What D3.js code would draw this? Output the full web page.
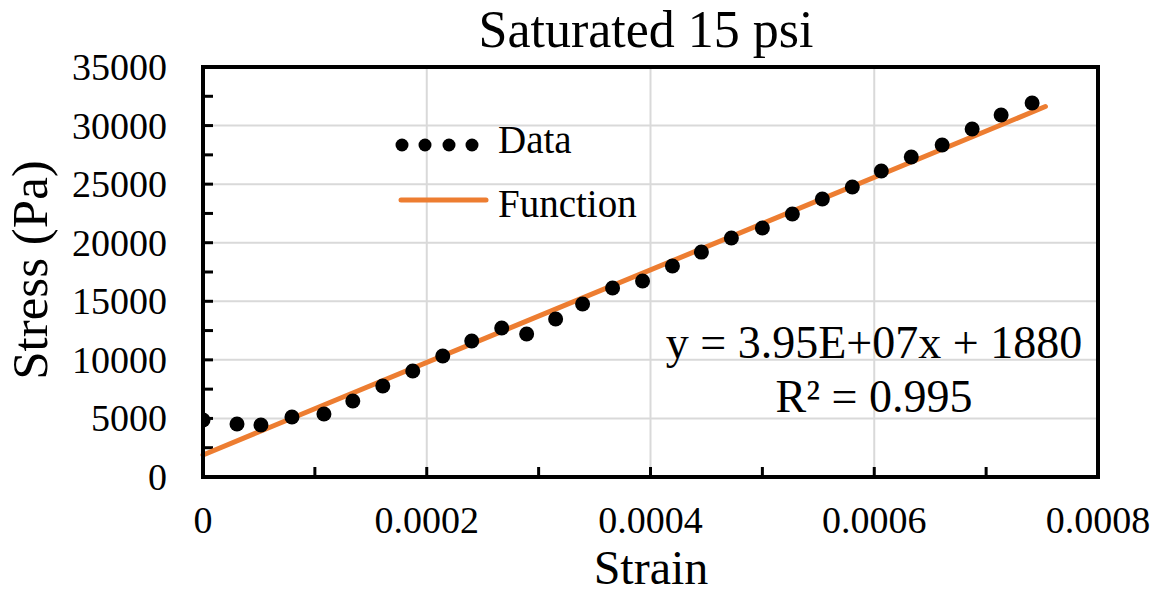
<!DOCTYPE html>
<html>
<head>
<meta charset="utf-8">
<script src="https://cdn.jsdelivr.net/npm/d3@7"></script>
<style>
  html, body { margin: 0; padding: 0; background: #fff; }
  svg text { font-family: "Liberation Serif", "Times New Roman", serif; fill: #000; }
</style>
</head>
<body>
<svg id="chart" width="1159" height="594"></svg>
<script>
const strain = [0, 3.04e-5, 5.18e-5, 7.95e-5, 1.081e-4, 1.339e-4, 1.607e-4, 1.875e-4, 2.143e-4, 2.402e-4,
  2.670e-4, 2.893e-4, 3.152e-4, 3.393e-4, 3.661e-4, 3.929e-4, 4.196e-4, 4.455e-4, 4.723e-4, 5.0e-4,
  5.268e-4, 5.536e-4, 5.804e-4, 6.063e-4, 6.331e-4, 6.607e-4, 6.875e-4, 7.134e-4, 7.411e-4];
const stress = [4870, 4530, 4440, 5120, 5380, 6490, 7770, 9050, 10330, 11610,
  12720, 12210, 13490, 14770, 16130, 16730, 18010, 19200, 20400, 21260,
  22450, 23730, 24760, 26120, 27320, 28340, 29710, 30900, 31930];
const fitSlope = 3.95e7;
const fitIntercept = 1880;
const fitRange = [0, 0.000753];
const xTicks = [0, 0.0002, 0.0004, 0.0006, 0.0008];
const xTickLabels = ["0", "0.0002", "0.0004", "0.0006", "0.0008"];
const yTicks = [0, 5000, 10000, 15000, 20000, 25000, 30000, 35000];
const yTickLabels = ["0", "5000", "10000", "15000", "20000", "25000", "30000", "35000"];
const titleText = "Saturated 15 psi";
const xTitle = "Strain";
const yTitle = "Stress (Pa)";
const eqText = "y = 3.95E+07x + 1880";
const r2Text = "R\u00B2 = 0.995";
const legendLabels = ["Data", "Function"];

const svg = d3.select("#chart");
const L = 203, R = 1098, T = 67, B = 477;
const x = d3.scaleLinear().domain([0, 0.0008]).range([L, R]);
const y = d3.scaleLinear().domain([0, 35000]).range([B, T]);
const orange = "#ED7D31";

// gridlines
svg.append("g").selectAll("line").data(xTicks.slice(1, -1)).join("line")
  .attr("x1", d => x(d)).attr("x2", d => x(d)).attr("y1", T).attr("y2", B)
  .attr("stroke", "#d9d9d9").attr("stroke-width", 2);
svg.append("g").selectAll("line").data(yTicks.slice(1, -1)).join("line")
  .attr("x1", L).attr("x2", R).attr("y1", d => y(d)).attr("y2", d => y(d))
  .attr("stroke", "#d9d9d9").attr("stroke-width", 2);

// minor ticks (inside)
const xMinor = d3.range(1, 8).map(i => i * 0.0001);
svg.append("g").selectAll("line").data(xMinor).join("line")
  .attr("x1", d => x(d)).attr("x2", d => x(d)).attr("y1", B).attr("y2", B - 10)
  .attr("stroke", "#000").attr("stroke-width", 3);
const yMinor = d3.range(1, 14).map(i => i * 2500);
svg.append("g").selectAll("line").data(yMinor).join("line")
  .attr("x1", L).attr("x2", L + 10).attr("y1", d => y(d)).attr("y2", d => y(d))
  .attr("stroke", "#000").attr("stroke-width", 3);

// border
svg.append("rect").attr("x", L).attr("y", T).attr("width", R - L).attr("height", B - T)
  .attr("fill", "none").attr("stroke", "#000").attr("stroke-width", 4);

// tick labels
svg.append("g").selectAll("text").data(xTicks).join("text")
  .attr("x", d => x(d)).attr("y", 533).attr("text-anchor", "middle")
  .attr("font-size", 38).text((d, i) => xTickLabels[i]);
svg.append("g").selectAll("text").data(yTicks).join("text")
  .attr("x", 167).attr("y", d => y(d) + 13).attr("text-anchor", "end")
  .attr("font-size", 38).text((d, i) => yTickLabels[i]);

// trend line
const line = d3.line().x(d => x(d)).y(d => y(fitSlope * d + fitIntercept));
svg.append("path").datum(fitRange).attr("d", line)
  .attr("fill", "none").attr("stroke", orange).attr("stroke-width", 5).attr("stroke-linecap", "round");

// data points
const clipId = "plotclip";
svg.append("clipPath").attr("id", clipId).append("rect")
  .attr("x", L).attr("y", T).attr("width", R - L).attr("height", B - T);
svg.append("g").attr("clip-path", `url(#${clipId})`).selectAll("circle").data(strain).join("circle")
  .attr("cx", d => x(d)).attr("cy", (d, i) => y(stress[i])).attr("r", 7.5).attr("fill", "#000");
// redraw left axis line over points
svg.append("line").attr("x1", L).attr("x2", L).attr("y1", T - 2).attr("y2", B + 2)
  .attr("stroke", "#000").attr("stroke-width", 4);

// legend
svg.append("g").selectAll("circle").data([402, 425, 449, 472]).join("circle")
  .attr("cx", d => d).attr("cy", 145).attr("r", 6.5).attr("fill", "#000");
svg.append("line").attr("x1", 401).attr("x2", 486).attr("y1", 200).attr("y2", 200)
  .attr("stroke", orange).attr("stroke-width", 5).attr("stroke-linecap", "round");
svg.append("text").attr("x", 498).attr("y", 153).attr("font-size", 39).text(legendLabels[0]);
svg.append("text").attr("x", 498).attr("y", 217).attr("font-size", 39).text(legendLabels[1]);

// equation
svg.append("text").attr("x", 874).attr("y", 358).attr("text-anchor", "middle").attr("font-size", 46).text(eqText);
svg.append("text").attr("x", 874).attr("y", 412).attr("text-anchor", "middle").attr("font-size", 46).text(r2Text);

// titles
svg.append("text").attr("x", 646).attr("y", 47).attr("text-anchor", "middle").attr("font-size", 52).text(titleText);
svg.append("text").attr("x", 651).attr("y", 584).attr("text-anchor", "middle").attr("font-size", 48).text(xTitle);
svg.append("text").attr("transform", "translate(47,270) rotate(-90)").attr("text-anchor", "middle")
  .attr("font-size", 51).text(yTitle);
</script>
</body>
</html>
